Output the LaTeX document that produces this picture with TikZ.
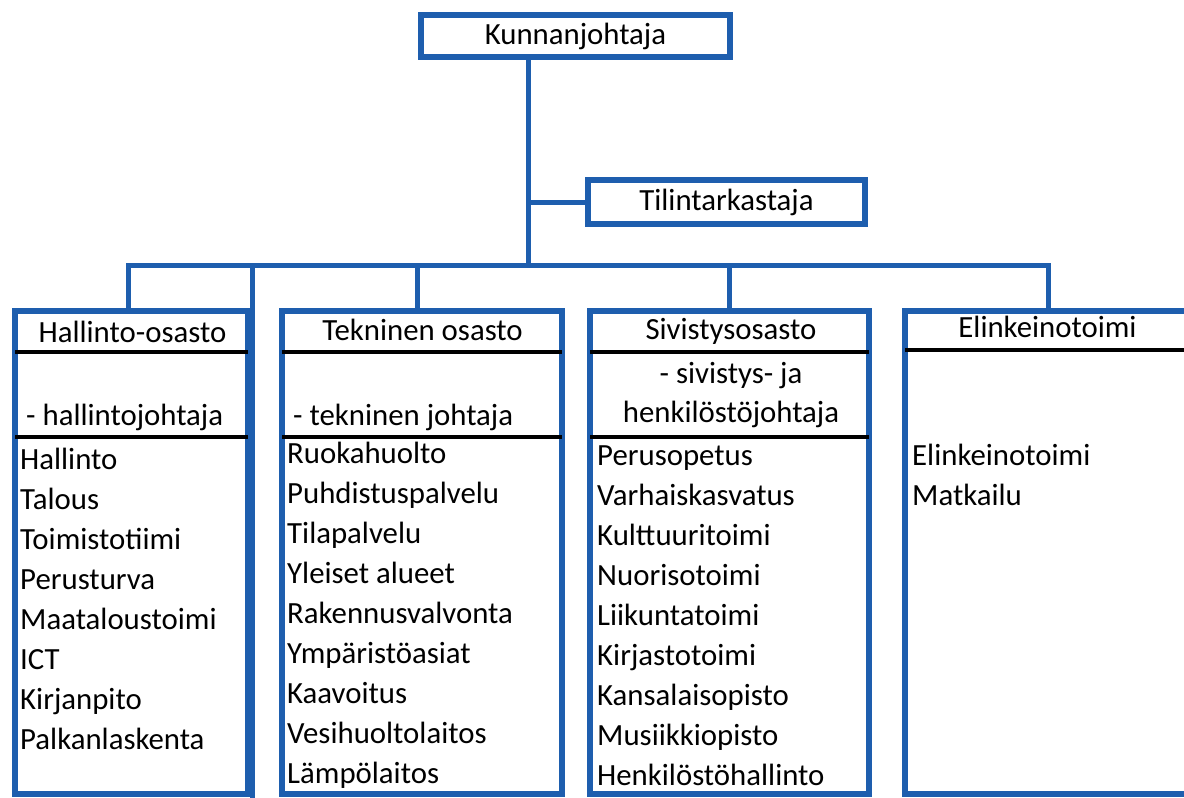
\documentclass[tikz,border=0pt]{standalone}
\usepackage{fontspec}
\setmainfont{Carlito}
\definecolor{orgblue}{RGB}{30,94,174}

\begin{document}
\begin{tikzpicture}[x=1pt, y=-1pt,
  box/.style={draw=orgblue, line width=6pt, fill=white, inner sep=0pt},
  link/.style={orgblue, line width=5pt},
  rule/.style={black, line width=3.5pt, shorten <=3pt, shorten >=3pt},
  txt/.style={inner sep=0pt},
  font=\fontsize{30.8}{37}\selectfont]
  \path[use as bounding box, clip] (0,0) rectangle (1184,798);

  % top of the chart
  \node[box, minimum width=309, minimum height=42] (kj) at (575.5,36) {Kunnanjohtaja};
  \node[box, minimum width=277, minimum height=44] (tt) at (726.5,202) {Tilintarkastaja};

  % departments
  \node[box, minimum width=233, minimum height=483] (hal) at (131.5,552.5) {};
  \node[box, minimum width=280, minimum height=483] (tek) at (422,552.5) {};
  \node[box, minimum width=279, minimum height=483] (siv) at (729.5,552.5) {};
  \node[box, minimum width=285, minimum height=483] (ela) at (1047.5,552.5) {};

  % connectors
  \coordinate (busL) at (128,265);
  \coordinate (busR) at (1048,265);
  \coordinate (stem) at (528,265);
  \coordinate (tekdrop) at (417,265);
  \coordinate (halrim) at (252,265);
  \draw[link] (hal.north -| busL) -- (busL) -- (busR) -- (ela.north -| busR);
  \draw[link] (kj.south -| stem) -- (stem);
  \draw[link] (tt.west) -- (tt.west -| stem);
  \draw[link] (tekdrop) -- (tekdrop |- tek.north);
  \draw[link] (siv.north |- busL) -- (siv.north);
  \draw[link] (halrim) -- (halrim |- 0,798);

  % header rules
  \foreach \d in {hal,tek,siv} {
    \draw[rule] (\d.west |- 0,352) -- (\d.east |- 0,352);
    \draw[rule] (\d.west |- 0,437) -- (\d.east |- 0,437);
  }
  \draw[rule] (ela.west |- 0,350) -- (ela.east |- 0,350);

  % Hallinto-osasto
  \node[txt, anchor=base] (hal-t) at (132.5,342) {Hallinto-osasto};
  \node[txt, anchor=base west] (hal-s) at (26,425) {- hallintojohtaja};
  \foreach \item [count=\i] in {Hallinto,Talous,Toimistotiimi,Perusturva,Maataloustoimi,ICT,Kirjanpito,Palkanlaskenta}
    \node[txt, anchor=base west] (hal-\i) at (20,{429+40*\i}) {\item};

  % Tekninen osasto
  \node[txt, anchor=base] (tek-t) at (422.5,340) {Tekninen osasto};
  \node[txt, anchor=base west] (tek-s) at (293,425) {- tekninen johtaja};
  \foreach \item [count=\i] in {Ruokahuolto,Puhdistuspalvelu,Tilapalvelu,Yleiset alueet,Rakennusvalvonta,Ympäristöasiat,Kaavoitus,Vesihuoltolaitos,Lämpölaitos}
    \node[txt, anchor=base west] (tek-\i) at (287,{423+40*\i}) {\item};

  % Sivistysosasto
  \node[txt, anchor=base] (siv-t) at (731,339) {Sivistysosasto};
  \node[txt, anchor=base] (siv-s) at (731,383) {- sivistys- ja};
  \node[txt, anchor=base] (siv-u) at (731,422) {henkilöstöjohtaja};
  \foreach \item [count=\i] in {Perusopetus,Varhaiskasvatus,Kulttuuritoimi,Nuorisotoimi,Liikuntatoimi,Kirjastotoimi,Kansalaisopisto,Musiikkiopisto,Henkilöstöhallinto}
    \node[txt, anchor=base west] (siv-\i) at (597,{425+40*\i}) {\item};

  % Elinkeinotoimi
  \node[txt, anchor=base] (ela-t) at (1047.5,337) {Elinkeinotoimi};
  \foreach \item [count=\i] in {Elinkeinotoimi,Matkailu}
    \node[txt, anchor=base west] (ela-\i) at (912,{425+40*\i}) {\item};
\end{tikzpicture}
\end{document}
